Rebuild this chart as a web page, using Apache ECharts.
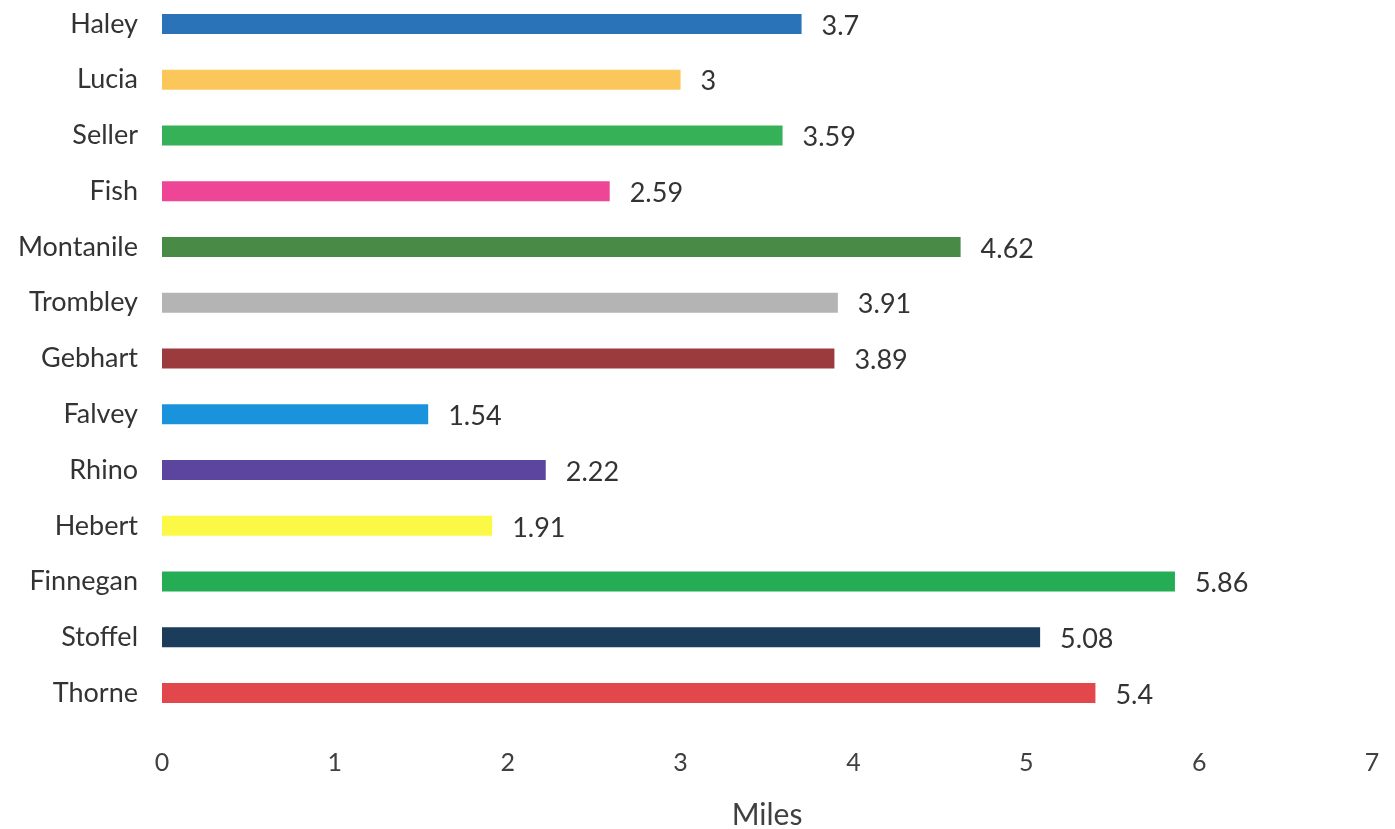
<!DOCTYPE html>
<html><head><meta charset="utf-8">
<script src="https://cdn.jsdelivr.net/npm/echarts@6/dist/echarts.min.js"></script>
<style>html,body{margin:0;padding:0;background:#fff}#c{width:1395px;height:829px}</style>
</head><body><div id="c"></div>
<script>
const categories = ["Haley","Lucia","Seller","Fish","Montanile","Trombley","Gebhart","Falvey","Rhino","Hebert","Finnegan","Stoffel","Thorne"];
const miles = [3.7,3,3.59,2.59,4.62,3.91,3.89,1.54,2.22,1.91,5.86,5.08,5.4];
const barColors = ["#2a73b8","#fcc75a","#36b157","#ee4596","#4a8a47","#b4b4b4","#9b3b3e","#1b93dc","#5b459e","#fbf846","#24ad55","#1b3c5a","#e2474b"];
const xTicks = [0,1,2,3,4,5,6,7];

const chart = echarts.init(document.getElementById('c'));
const font = "Lato, 'Open Sans', sans-serif";
chart.setOption({
  animation:false,
  grid:{left:162,right:23,top:-4,bottom:108,containLabel:false,outerBoundsMode:'none'},
  xAxis:{type:'value',min:xTicks[0],max:xTicks[xTicks.length-1],interval:1,
    axisLine:{show:false},axisTick:{show:false},splitLine:{show:false},
    axisLabel:{margin:29,fontSize:25,color:'#404040',fontFamily:font},
    name:'Miles',nameLocation:'middle',nameGap:79,
    nameTextStyle:{fontSize:30,color:'#404040',fontFamily:font}},
  yAxis:{type:'category',data:categories,inverse:true,
    axisLine:{show:false},axisTick:{show:false},
    axisLabel:{margin:24,fontSize:27,color:'#333333',fontFamily:font}},
  series:[{type:'bar',barWidth:20,
    data:miles.map((v,i)=>({value:v,itemStyle:{color:barColors[i]}})),
    label:{show:true,position:'right',distance:20,fontSize:27,color:'#333333',fontFamily:font,offset:[0,2]}}]
});
</script></body></html>
